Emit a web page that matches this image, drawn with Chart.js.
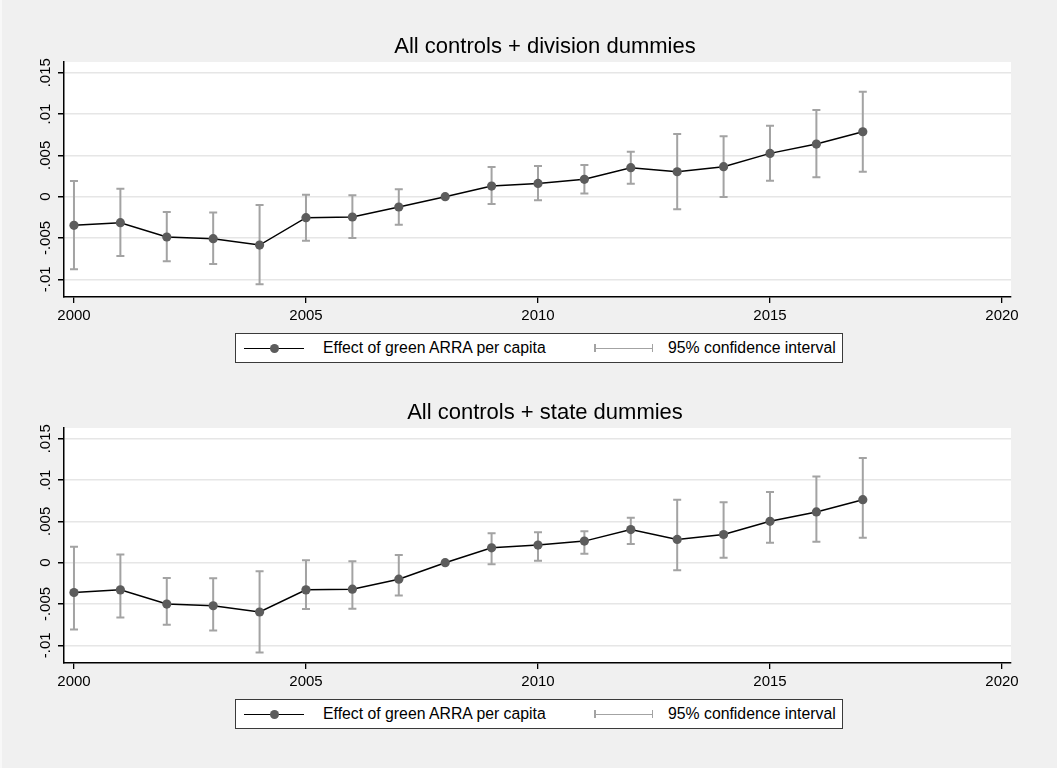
<!DOCTYPE html>
<html>
<head>
<meta charset="utf-8">
<script src="https://cdn.jsdelivr.net/npm/chart.js@4/dist/chart.umd.min.js"></script>
<style>
  html, body { margin: 0; padding: 0; }
  body { width: 1057px; height: 768px; background: #f0f0f0; position: relative; overflow: hidden;
         font-family: 'Liberation Sans', Arial, sans-serif; }
  .edge { position: absolute; left: 0; top: 0; width: 2px; height: 768px; background: #f8f8f8; }
  .panel { position: absolute; left: 0; width: 1057px; height: 366px; }
  .panel canvas { position: absolute; left: 33px; top: 0; }
  .legend { position: absolute; left: 235px; top: 333px; width: 608px; height: 30px; box-sizing: border-box;
            background: #fff; border: 1px solid #3a3a3a; font-size: 15.8px; color: #000; }
  .legend .txt { position: absolute; top: 0; line-height: 28px; white-space: nowrap; }
  .sym-line { position: absolute; left: 8px; top: 13.5px; width: 60px; height: 1.5px; background: #000; }
  .sym-dot { position: absolute; left: 34px; top: 10px; width: 9px; height: 9px; border-radius: 50%; background: #5c5c5c; }
  .sym-ci { position: absolute; left: 358px; top: 13.5px; width: 59px; height: 1.5px; background: #a3a3a3; }
  .sym-ci:before, .sym-ci:after { content: ''; position: absolute; top: -3.5px; width: 1.5px; height: 8px; background: #a3a3a3; }
  .sym-ci:before { left: 0; }
  .sym-ci:after { right: 0; }
</style>
</head>
<body>
<div class="edge"></div>

<div class="panel" style="top:0">
  <canvas id="chart1" width="1024" height="330"></canvas>
  <div class="legend">
    <div class="sym-line"></div><div class="sym-dot"></div>
    <span class="txt" style="left:87px">Effect of green ARRA per capita</span>
    <div class="sym-ci"></div>
    <span class="txt" style="left:432px">95% confidence interval</span>
  </div>
</div>

<div class="panel" style="top:366px">
  <canvas id="chart2" width="1024" height="330"></canvas>
  <div class="legend">
    <div class="sym-line"></div><div class="sym-dot"></div>
    <span class="txt" style="left:87px">Effect of green ARRA per capita</span>
    <div class="sym-ci"></div>
    <span class="txt" style="left:432px">95% confidence interval</span>
  </div>
</div>

<script>
// data
const years = [2000, 2001, 2002, 2003, 2004, 2005, 2006, 2007, 2008, 2009, 2010, 2011, 2012, 2013, 2014, 2015, 2016, 2017];

const divEffect = [-0.00347, -0.00315, -0.00488, -0.00508, -0.00585, -0.00254, -0.00246, -0.00125, 0, 0.00129, 0.00161, 0.0021, 0.00351, 0.00302, 0.00363, 0.00524, 0.00637, 0.00786];
const divLow = [-0.00879, -0.00718, -0.00782, -0.00815, -0.0106, -0.00532, -0.005, -0.00339, null, -0.00089, -0.00044, 0.0004, 0.00157, -0.00153, -0.00004, 0.00194, 0.00234, 0.00302];
const divHigh = [0.0019, 0.00097, -0.00185, -0.0019, -0.00101, 0.00024, 0.00016, 0.00089, null, 0.00359, 0.00371, 0.00383, 0.00544, 0.00758, 0.0073, 0.00859, 0.01048, 0.0127];

const stateEffect = [-0.00361, -0.00329, -0.00501, -0.00521, -0.00597, -0.00329, -0.00321, -0.002, 0, 0.0018, 0.00213, 0.00261, 0.00401, 0.00281, 0.00341, 0.00501, 0.00614, 0.00762];
const stateLow = [-0.0081, -0.00662, -0.0075, -0.00822, -0.01087, -0.00561, -0.00557, -0.00397, null, -0.0002, 0.00024, 0.00108, 0.00225, -0.00092, 0.0006, 0.00241, 0.00253, 0.00301];
const stateHigh = [0.00192, 0.001, -0.00184, -0.00188, -0.00104, 0.00028, 0.00016, 0.00092, null, 0.00357, 0.00369, 0.00381, 0.00545, 0.00762, 0.0073, 0.00854, 0.01042, 0.01267];

const xTicks = [2000, 2005, 2010, 2015, 2020];
const xTickLabels = ['2000', '2005', '2010', '2015', '2020'];
const yTicks = [-0.01, -0.005, 0, 0.005, 0.01, 0.015];
const yTickLabels = ['-.01', '-.005', '0', '.005', '.01', '.015'];

Chart.defaults.font.family = "'Liberation Sans', Arial, sans-serif";
Chart.defaults.color = '#000';

// white plot region
const plotBg = {
  id: 'plotBg',
  beforeDraw(chart) {
    const a = chart.chartArea, c = chart.ctx;
    c.save();
    c.fillStyle = '#fff';
    c.fillRect(a.left, a.top, a.right - a.left, a.bottom - a.top);
    c.restore();
  }
};

// 95% CI bars, placed with the chart's own scales
const ciBars = {
  id: 'ciBars',
  beforeDatasetsDraw(chart, args, opts) {
    const c = chart.ctx, xs = chart.scales.x, ys = chart.scales.y;
    c.save();
    c.strokeStyle = '#a3a3a3';
    c.lineWidth = 2;
    for (let i = 0; i < years.length; i++) {
      if (opts.low[i] == null) continue;
      const x = xs.getPixelForValue(years[i]);
      const y1 = ys.getPixelForValue(opts.low[i]);
      const y2 = ys.getPixelForValue(opts.high[i]);
      c.beginPath();
      c.moveTo(x, y1); c.lineTo(x, y2);
      c.moveTo(x - 4, y1); c.lineTo(x + 4, y1);
      c.moveTo(x - 4, y2); c.lineTo(x + 4, y2);
      c.stroke();
    }
    c.restore();
  }
};

function makeChart(id, title, effect, low, high) {
  return new Chart(document.getElementById(id), {
    type: 'line',
    data: {
      datasets: [{
        label: 'Effect of green ARRA per capita',
        data: years.map((y, i) => ({ x: y, y: effect[i] })),
        borderColor: '#000',
        borderWidth: 1.5,
        pointRadius: 4.6,
        pointBorderWidth: 0,
        pointBackgroundColor: '#5c5c5c',
        tension: 0
      }]
    },
    options: {
      responsive: false,
      animation: false,
      layout: { padding: 0 },
      plugins: {
        legend: { display: false },
        tooltip: { enabled: false },
        title: {
          display: true,
          text: title,
          color: '#000',
          font: { size: 22, weight: 'normal' },
          padding: { top: 34, bottom: 1.6 }
        },
        ciBars: { low: low, high: high }
      },
      scales: {
        x: {
          type: 'linear',
          min: 1999.785,
          max: 2020.194,
          afterBuildTicks: s => { s.ticks = xTicks.map(v => ({ value: v })); },
          afterFit: s => { s.height = 33; },
          grid: { drawOnChartArea: false, tickLength: 6, tickColor: '#000', lineWidth: 1.3 },
          border: { color: '#000', width: 1.5 },
          ticks: { font: { size: 15 }, padding: 4, autoSkip: false, maxRotation: 0,
                   callback: (v, i) => xTickLabels[i] }
        },
        y: {
          type: 'linear',
          min: -0.01214,
          max: 0.0163,
          afterBuildTicks: s => { s.ticks = yTicks.map(v => ({ value: v })); },
          afterFit: s => { s.width = 31; },
          grid: { color: '#e6e6e6', lineWidth: 1.5, tickLength: 6, tickColor: '#000' },
          border: { color: '#000', width: 1.5 },
          ticks: { font: { size: 15 }, padding: -5, autoSkip: false, minRotation: 90, maxRotation: 90,
                   crossAlign: 'center', callback: (v, i) => yTickLabels[i] }
        },
        // empty right margin, keeps the plot region narrower than the title band
        yRight: {
          type: 'linear',
          position: 'right',
          afterFit: s => { s.width = 46; },
          grid: { display: false },
          border: { display: false },
          ticks: { display: false }
        }
      }
    },
    plugins: [plotBg, ciBars]
  });
}

makeChart('chart1', 'All controls + division dummies', divEffect, divLow, divHigh);
makeChart('chart2', 'All controls + state dummies', stateEffect, stateLow, stateHigh);
</script>
</body>
</html>
